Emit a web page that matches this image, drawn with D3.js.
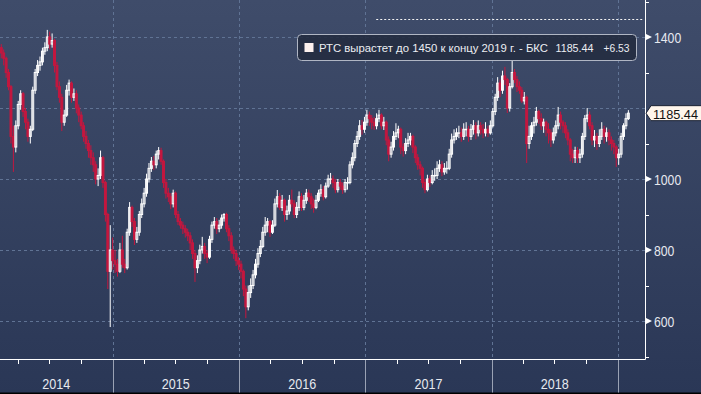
<!DOCTYPE html>
<html lang="ru">
<head>
<meta charset="UTF-8">
<script src="https://d3js.org/d3.v7.min.js" charset="utf-8"></script>
<title>РТС</title>
<style>
    body { margin: 0; background: #2c3957; }
    svg { display: block; }
    .num { font-family: "Liberation Sans", Arial, sans-serif; }
</style>
</head>
<body>
<div id="chart"></div>
<script>
    // weekly candles, RTS index, week of 10 Feb 2014 to week of 28 Jan 2019
    const firstWeek = new Date(2014, 1, 10);
    const firstOpen = 1370;

    const closeVals = [
        // 2014
        1355,1340,1300,1260,1120,1090,1150,1210,1240,1190,1160,1120,1140,1250,1300,1320,1330,1360,1370,1400,1380,1390,1320,1260,1230,1160,1180,1250,1270,1230,1240,1200,1180,1150,1120,1100,1080,1060,1040,1000,1010,1060,990,900,740,800,770,
        // 2015
        760,740,800,760,750,850,920,880,830,850,900,930,960,1000,1030,1050,1040,1070,1080,1050,990,960,950,930,960,900,880,870,860,850,840,820,790,750,770,800,810,790,780,830,870,880,860,870,890,900,860,840,800,790,770,760,
        // 2016
        740,690,640,680,700,730,760,790,810,850,870,880,850,870,930,950,920,940,900,910,940,930,900,920,950,920,940,960,950,930,920,940,960,970,950,980,1000,1000,990,970,990,980,970,990,990,1040,1060,1100,1120,1150,1140,1160,
        // 2017
        1180,1170,1160,1150,1170,1180,1150,1160,1110,1070,1090,1120,1130,1140,1090,1080,1100,1110,1120,1090,1060,1040,1030,990,970,1000,990,1010,1010,1030,1040,1020,1030,1030,1070,1110,1120,1130,1130,1120,1140,1140,1120,1140,1150,1130,1150,1140,1130,1140,1130,1150,
        // 2018
        1190,1230,1270,1250,1290,1280,1200,1260,1300,1280,1260,1250,1220,1230,1100,1120,1150,1160,1190,1170,1150,1160,1140,1130,1110,1130,1150,1180,1160,1150,1130,1110,1070,1060,1080,1060,1070,1120,1170,1180,1150,1110,1120,1100,1120,1140,1120,1130,1110,1100,1090,1060,1070,
        // 2019
        1120,1150,1170,1185.44
    ];
    const highVals = [
        1380,1365,1345,1310,1265,1150,1165,1220,1250,1245,1200,1170,1150,1260,1310,1335,1345,1370,1385,1420,1415,1410,1395,1330,1275,1240,1195,1265,1280,1275,1255,1250,1210,1190,1160,1135,1110,1095,1075,1050,1030,1080,1065,995,905,870,835,
        800,775,820,840,775,860,935,925,890,865,910,945,975,1015,1045,1062,1065,1080,1090,1088,1055,1000,975,960,970,965,910,890,880,870,860,850,830,800,785,815,837,820,800,840,880,893,890,885,900,904,905,870,850,810,800,780,
        770,745,700,700,720,744,775,805,828,865,893,890,885,884,945,969,960,955,945,925,955,970,940,935,965,960,955,972,970,960,945,955,970,985,980,990,1012,1017,1010,1000,1000,1000,990,1000,1005,1050,1075,1110,1135,1166,1166,1175,
        1195,1190,1180,1175,1185,1195,1185,1175,1165,1120,1105,1135,1157,1150,1145,1100,1115,1130,1130,1125,1095,1070,1050,1035,1000,1012,1010,1025,1030,1050,1054,1050,1045,1050,1085,1128,1140,1143,1150,1145,1157,1160,1150,1155,1166,1160,1165,1160,1155,1160,1150,1165,
        1200,1240,1287,1280,1305,1316,1285,1270,1335,1310,1290,1275,1259,1245,1235,1150,1160,1175,1203,1195,1185,1170,1165,1157,1140,1145,1165,1203,1190,1166,1160,1140,1115,1085,1091,1090,1085,1130,1180,1200,1190,1160,1138,1130,1140,1160,1150,1145,1140,1120,1110,1095,1085,
        1130,1157,1185,1194
    ];
    const lowVals = [
        1340,1320,1285,1250,1100,1020,1075,1140,1195,1175,1140,1105,1100,1135,1240,1290,1305,1320,1350,1360,1365,1370,1300,1250,1215,1135,1150,1175,1235,1215,1220,1185,1160,1140,1105,1085,1060,1040,1020,985,980,1000,975,880,690,583,745,
        735,725,735,750,735,745,840,865,814,820,840,890,920,950,990,1020,1025,1030,1055,1040,975,945,935,915,920,890,870,860,845,835,825,800,775,710,735,760,790,775,763,775,820,860,845,850,860,880,850,825,790,775,755,744,
        720,670,608,630,665,690,720,750,780,805,840,850,837,845,865,920,913,910,880,885,900,920,890,890,910,910,912,930,935,915,905,915,935,950,940,945,975,985,975,960,962,970,958,962,970,985,1030,1050,1090,1110,1125,1130,
        1150,1150,1140,1138,1140,1160,1140,1138,1095,1050,1060,1080,1110,1115,1070,1063,1070,1090,1095,1073,1045,1026,1010,975,960,965,978,985,995,1000,1020,1008,1012,1015,1025,1060,1100,1110,1115,1105,1110,1120,1105,1110,1125,1112,1120,1125,1115,1120,1118,1125,
        1145,1180,1220,1231,1240,1265,1186,1190,1255,1270,1245,1240,1214,1210,1045,1085,1110,1128,1150,1155,1138,1130,1120,1100,1090,1100,1120,1140,1140,1130,1115,1095,1050,1045,1045,1045,1045,1060,1110,1160,1140,1095,1090,1082,1090,1110,1100,1105,1095,1080,1070,1034,1040,
        1060,1110,1140,1166
    ];

    const years = [2014, 2015, 2016, 2017, 2018, 2019];
    const majorTicks = [600, 800, 1000, 1200, 1400];
    const minorTicks = [500, 700, 900, 1100, 1300, 1500];
    const forecastLevel = 1450;
    const forecastFrom = new Date(2017, 1, 1);
    const legendText = "РТС вырастет до 1450 к концу 2019 г. - БКС";
    const lastChange = "+6.53";

    const width = 701, height = 394;
    const plotW = 645, plotH = 359;

    const candles = closeVals.map((c, i) => ({
        date: d3.timeDay.offset(firstWeek, i * 7 + 3),
        open: i === 0 ? firstOpen : closeVals[i - 1],
        close: c,
        high: highVals[i],
        low: lowVals[i]
    }));
    const last = candles[candles.length - 1];

    const x = d3.scaleTime()
        .domain([new Date(2014, 0, 1), new Date(2019, 0, 1)])
        .range([-13.6, 618]);
    const y = d3.scaleLinear()
        .domain([600, 1400])
        .range([321, 37]);

    const svg = d3.select("#chart").append("svg")
        .attr("width", width)
        .attr("height", height);

    const grad = svg.append("defs").append("linearGradient")
        .attr("id", "bg").attr("x1", 0).attr("y1", 0).attr("x2", 0).attr("y2", 1);
    grad.append("stop").attr("offset", "0%").attr("stop-color", "#3f4c6a");
    grad.append("stop").attr("offset", "100%").attr("stop-color", "#2a3756");

    svg.append("rect").attr("width", width).attr("height", height).attr("fill", "url(#bg)");
    svg.append("rect").attr("y", height - 1.5).attr("width", width).attr("height", 1.5).attr("fill", "#000");

    const yearStarts = years.map(yr => new Date(yr, 0, 1));

    // grid
    const grid = svg.append("g").attr("stroke", "#607394").attr("stroke-dasharray", "3,3").attr("stroke-width", 1);
    grid.selectAll("line.h").data(majorTicks).enter().append("line")
        .attr("x1", 0).attr("x2", plotW)
        .attr("y1", d => Math.round(y(d)) + 0.5).attr("y2", d => Math.round(y(d)) + 0.5);
    grid.selectAll("line.v").data(yearStarts.slice(1)).enter().append("line")
        .attr("x1", d => Math.round(x(d)) + 0.5).attr("x2", d => Math.round(x(d)) + 0.5)
        .attr("y1", 0).attr("y2", plotH);

    // forecast line
    svg.append("line")
        .attr("x1", x(forecastFrom)).attr("x2", plotW - 2)
        .attr("y1", Math.round(y(forecastLevel)) + 0.5).attr("y2", Math.round(y(forecastLevel)) + 0.5)
        .attr("stroke", "#f4f4f4").attr("stroke-dasharray", "2,2");

    // candles
    const bodyW = 1.9;
    const red = "#c4173f";
    const isUp = d => d.close >= d.open;
    const cg = svg.append("g");
    cg.selectAll("line").data(candles).enter().append("line")
        .attr("x1", d => x(d.date)).attr("x2", d => x(d.date))
        .attr("y1", d => y(d.high)).attr("y2", d => y(d.low))
        .attr("stroke", d => isUp(d) ? "#ffffff" : red)
        .attr("stroke-width", 1);
    cg.selectAll("rect").data(candles).enter().append("rect")
        .attr("x", d => x(d.date) - bodyW / 2)
        .attr("width", bodyW)
        .attr("y", d => y(Math.max(d.open, d.close)))
        .attr("height", d => Math.max(0.5, Math.abs(y(d.open) - y(d.close))))
        .attr("fill", d => isUp(d) ? "none" : red)
        .attr("stroke", d => isUp(d) ? "#ffffff" : red)
        .attr("stroke-width", 1);

    // axes lines
    svg.append("line").attr("x1", 0).attr("x2", plotW + 0.5).attr("y1", plotH + 0.5).attr("y2", plotH + 0.5)
        .attr("stroke", "#fff");
    svg.append("line").attr("x1", plotW + 0.5).attr("x2", plotW + 0.5).attr("y1", 0).attr("y2", plotH + 0.5)
        .attr("stroke", "#fff");

    // bottom axis: year separators, quarter ticks, labels
    svg.append("g").selectAll("line").data(yearStarts.slice(1)).enter().append("line")
        .attr("x1", d => Math.round(x(d)) + 0.5).attr("x2", d => Math.round(x(d)) + 0.5)
        .attr("y1", plotH + 1).attr("y2", height - 1.5)
        .attr("stroke", "#9aa2b4");
    const quarters = d3.timeMonth.every(3).range(new Date(2014, 0, 2), new Date(2019, 0, 1))
        .filter(d => d.getMonth() !== 0 && x(d) > 0);
    svg.append("g").selectAll("line").data(quarters).enter().append("line")
        .attr("x1", d => Math.round(x(d)) + 0.5).attr("x2", d => Math.round(x(d)) + 0.5)
        .attr("y1", plotH + 1).attr("y2", plotH + 5)
        .attr("stroke", "#fff");
    svg.append("g").selectAll("text").data(years.slice(0, 5)).enter().append("text")
        .attr("class", "num")
        .attr("x", yr => (Math.max(0, x(new Date(yr, 0, 1))) + x(new Date(yr + 1, 0, 1))) / 2 - 14)
        .attr("y", 389)
        .attr("font-size", 14.5)
        .attr("textLength", 28).attr("lengthAdjust", "spacingAndGlyphs")
        .attr("fill", "#e6e9ef")
        .text(yr => yr);

    // right axis
    const ra = svg.append("g");
    ra.selectAll("line").data(minorTicks).enter().append("line")
        .attr("x1", plotW).attr("x2", plotW + 4)
        .attr("y1", d => Math.round(y(d)) + 0.5).attr("y2", d => Math.round(y(d)) + 0.5)
        .attr("stroke", "#fff");
    const shown = majorTicks.filter(d => Math.abs(y(d) - y(last.close)) > 14);
    ra.selectAll("path").data(shown).enter().append("path")
        .attr("d", d => `M${plotW},${y(d) - 3.5}L${plotW + 7},${y(d)}L${plotW},${y(d) + 3.5}Z`)
        .attr("fill", "#fff");
    ra.selectAll("text").data(shown).enter().append("text")
        .attr("class", "num")
        .attr("x", plotW + 9)
        .attr("y", d => y(d) + 5.5)
        .attr("font-size", 14.5)
        .attr("textLength", d => String(d).length * 6.8).attr("lengthAdjust", "spacingAndGlyphs")
        .attr("fill", "#e6e9ef")
        .text(d => d);

    // last value tag
    const ly = y(last.close);
    svg.append("path")
        .attr("d", `M${plotW + 1},${ly}L${plotW + 6},${ly - 7.5}H${width + 2}V${ly + 7.5}H${plotW + 6}Z`)
        .attr("fill", "#fff6ec").attr("stroke", "#1b2233").attr("stroke-width", 1);
    svg.append("text")
        .attr("class", "num")
        .attr("x", plotW + 8).attr("y", ly + 5.5)
        .attr("font-size", 13).attr("fill", "#111")
        .attr("textLength", 45).attr("lengthAdjust", "spacingAndGlyphs")
        .text(d3.format(".2f")(last.close));

    // legend
    const lg = svg.append("g").attr("transform", "translate(297.5,34.5)");
    lg.append("rect").attr("width", 339).attr("height", 26).attr("rx", 4)
        .attr("fill", "#232c40").attr("fill-opacity", 0.9).attr("stroke", "#b0b6c4");
    lg.append("rect").attr("x", 7).attr("y", 8.5).attr("width", 9).attr("height", 9).attr("fill", "#fdf1ee");
    const legendParts = [
        { text: legendText, x: 21.5, w: 229 },
        { text: d3.format(".2f")(last.close), x: 258, w: 38 },
        { text: lastChange, x: 306, w: 26 }
    ];
    lg.selectAll("text").data(legendParts).enter().append("text")
        .attr("x", d => d.x).attr("y", 17.5)
        .attr("font-family", "'Liberation Sans', Arial, sans-serif").attr("font-size", 11.5)
        .attr("textLength", d => d.w).attr("lengthAdjust", "spacingAndGlyphs")
        .attr("fill", "#eceef3")
        .text(d => d.text);
</script>
</body>
</html>
